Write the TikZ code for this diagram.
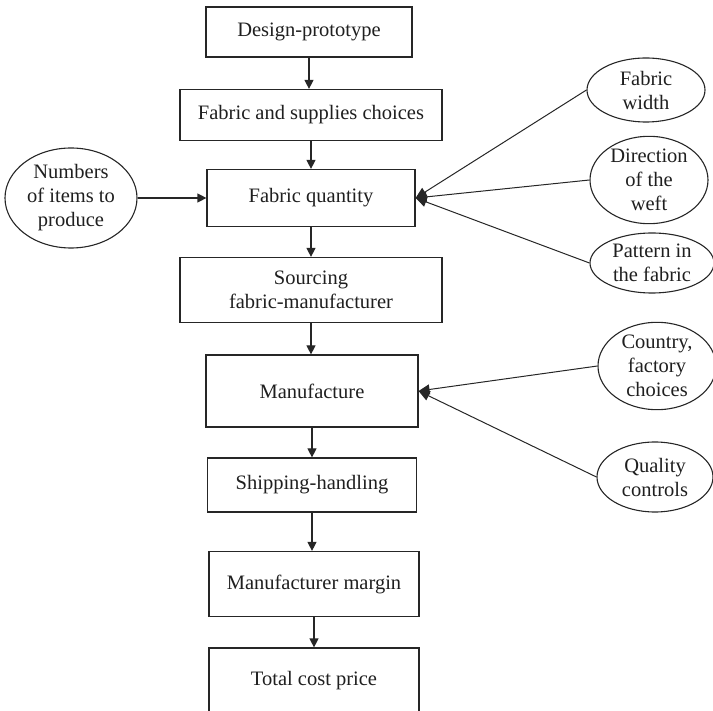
\documentclass[tikz,border=0pt]{standalone}
\usepackage{fontspec}
\setmainfont{Liberation Serif}
\usetikzlibrary{shapes.geometric,arrows.meta}
\begin{document}
\begin{tikzpicture}[x=1pt,y=-1pt,
  every node/.style={font=\fontsize{20.5}{24}\selectfont, text=black!88, align=center},
  stepbox/.style={draw=black!85, line width=1.2pt, rectangle, inner sep=0pt},
  oval/.style={draw=black!85, line width=1.1pt, ellipse, inner sep=0pt},
  arr/.style={draw=black!85, line width=1.2pt, -{Triangle[length=9pt,width=9pt]}},
  feed/.style={draw=black!85, line width=1pt, -{Triangle[length=11pt,width=10pt]}}]
\useasboundingbox (0,0) rectangle (713,711);
\clip (0,0) rectangle (713,711);
\node[stepbox, minimum width=206pt, minimum height=50pt] (d1) at (309,32) {Design-prototype};
\node[stepbox, minimum width=262pt, minimum height=51pt] (d2) at (311,115) {Fabric and supplies choices};
\node[stepbox, minimum width=208pt, minimum height=57pt] (d3) at (311,198) {Fabric quantity};
\node[stepbox, minimum width=262pt, minimum height=65pt] (d4) at (311,290) {Sourcing\\fabric-manufacturer};
\node[stepbox, minimum width=212pt, minimum height=72pt] (d5) at (312,391) {Manufacture};
\node[stepbox, minimum width=209pt, minimum height=54pt] (d6) at (312,485) {Shipping-handling};
\node[stepbox, minimum width=210pt, minimum height=65pt] (d7) at (314,584) {Manufacturer margin};
\node[stepbox, minimum width=210pt, minimum height=92pt] (d8) at (314,694) {};
\node (t8) at (314,681) {Total cost price};

\node[oval, minimum width=132pt, minimum height=100pt] (n1) at (71,198) {Numbers\\of items to\\produce};
\node[oval, minimum width=118pt, minimum height=64pt] (e1) at (646,90) {Fabric\\width};
\node[oval, minimum width=118pt, minimum height=86pt] (e2) at (649,180) {Direction\\of the\\weft};
\node[oval, minimum width=124pt, minimum height=60pt] (e3) at (652,263) {Pattern in\\the fabric};
\node[oval, minimum width=118pt, minimum height=84pt] (e4) at (657,366) {Country,\\factory\\choices};
\node[oval, minimum width=116pt, minimum height=70pt] (e5) at (655,477) {Quality\\controls};

\foreach \a/\b in {d1/d2,d2/d3,d3/d4,d4/d5,d5/d6,d6/d7,d7/d8}
  \draw[arr] (\a.south) -- (\a.south |- \b.north);
\draw[arr] (n1.east) -- (d3.west);
\draw[feed] (e1.west) -- (d3.east);
\draw[feed] (e2.west) -- (d3.east);
\draw[feed] (e3.west) -- (d3.east);
\draw[feed] (e4.west) -- (d5.east);
\draw[feed] (e5.west) -- (d5.east);
\end{tikzpicture}
\end{document}
